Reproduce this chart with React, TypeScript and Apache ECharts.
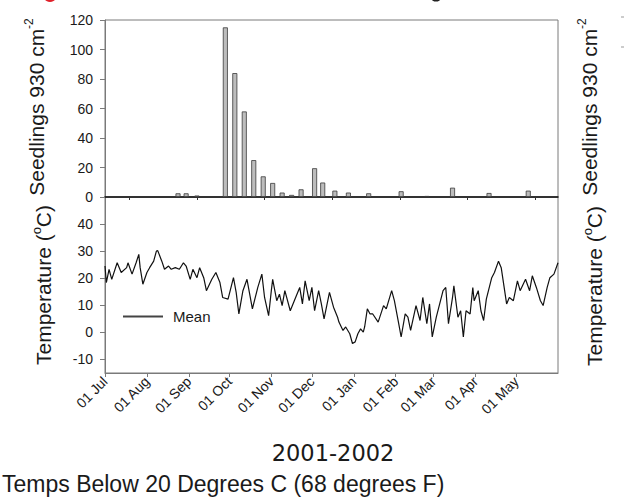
import React, { useEffect, useRef } from 'react';
import * as echarts from 'echarts';

// x values are days since 01 Jul 2001
const monthTickDays = [0, 31, 62, 92, 123, 153, 184, 215, 243, 274, 304];
const monthTickLabels = ['01 Jul', '01 Aug', '01 Sep', '01 Oct', '01 Nov', '01 Dec', '01 Jan', '01 Feb', '01 Mar', '01 Apr', '01 May'];
const seedlingAxisTickDays = [18, 68, 118, 168, 218, 268, 318];

const seedlingDays = [54, 60, 68, 89, 96, 103, 110, 117, 124, 131, 138, 145, 155, 161, 170, 180, 195, 219, 238, 257, 284, 313];
const seedlingCounts = [2.5, 2.5, 1, 115, 84, 58, 25, 14, 9.5, 3, 1.4, 5.2, 19.5, 9.8, 4.3, 3, 2.5, 3.9, 0.7, 6.3, 2.7, 4.3];

const tempDays = [
  0, 1, 3, 5, 9, 12, 16, 17, 20, 23, 25, 26, 28, 31, 33, 36, 38, 39, 42, 44, 47, 49, 52, 55, 58, 60, 63, 65, 68, 70,
  73, 75, 79, 82, 85, 87, 91, 95, 97, 99, 102, 105, 107, 109, 113, 116, 118, 121, 123, 124, 127, 129, 131, 133, 137,
  140, 144, 146, 148, 151, 153, 155, 158, 160, 162, 166, 169, 172, 173, 176, 178, 181, 183, 185, 187, 189, 191, 192,
  194, 196, 198, 202, 206, 208, 212, 214, 217, 219, 222, 224, 226, 230, 233, 235, 238, 240, 242, 245, 250, 252, 254,
  257, 258, 261, 263, 265, 267, 270, 272, 273, 276, 278, 280, 282, 286, 288, 291, 293, 297, 299, 302, 305, 307, 311,
  314, 316, 319, 322, 324, 327, 329, 332, 335,
];
const tempMean = [
  24.5, 18.4, 23.3, 19.6, 25.7, 22.1, 23.9, 25.7, 21.5, 25.7, 28.8, 23.9, 17.8, 22.1, 23.9, 26.3, 30, 30.2, 26.3, 23.3,
  24.5, 23.3, 23.9, 23.3, 25.7, 24.5, 19.6, 23.3, 20.2, 23.9,
  20.2, 15.4, 19.6, 22.1, 18.4, 12.9, 12.3, 20.2, 14.8, 6.8, 15.4, 19.6, 14.1, 8.7, 16.6, 21.5, 12.9, 6.2, 15.4, 19.6,
  11.7, 14.1, 9.9, 15.4, 8.0,
  11.7, 16.6, 10.5, 19.0, 11.7, 16.6, 8.0, 15.4, 10.5, 5.0, 14.8, 9.3, 5.6, 3.8, 0.7, 2, -0.5, -4.1, -3.5, -0.5, 1.3,
  0.1, 2,
  8.7, 6.8, 6.8, 3.8, 9.9, 8.7, 15.4, 11.7, 3.8, -1.7, 6.8, 5.6, 0.7, 9.9, 4.4, 12.9, 3.2, 10.5, -1.7, 5.6, 15.4, 16.6,
  3.2,
  12.9, 17.2, 5.6, 8, -1.7, 8, 6.8, 16.6, 11.7, 15.4, 8, 4.4, 12.3, 20.2, 22.1, 26.3, 23.9, 10.5, 12.9, 11.7, 19, 15.4,
  19.6,
  15.4, 20.9, 16.6, 11.7, 9.9, 16.6, 20.2, 21.5, 25.7,
];

const tempTickValues = [-10, 0, 10, 20, 30, 40];

const FONT = '"Liberation Sans", Arial, sans-serif';

export default function App() {
  const ref = useRef<HTMLDivElement>(null);

  useEffect(() => {
    if (!ref.current) return;
    const chart = echarts.init(ref.current, null, { renderer: 'svg' });

    const axisGray = '#7a7a7a';
    const labelColor = '#1a1a1a';

    const rotTitle = (x: number, y: number, main1: string, sup: string, main2: string, supSize: number) => ({
      type: 'text', x, y, rotation: Math.PI / 2,
      style: {
        text: `{a|${main1}}{s|${sup}}` + (main2 ? `{a|${main2}}` : ''),
        align: 'center', verticalAlign: 'middle',
        rich: {
          a: { fontSize: 21, fontFamily: FONT, fill: labelColor, lineHeight: 27 },
          s: { fontSize: supSize, fontFamily: FONT, fill: labelColor, verticalAlign: 'top' },
        },
      },
    });

    const option: any = {
      animation: false,
      textStyle: { fontFamily: FONT },
      grid: [
        { left: 105, top: 20, width: 453, height: 177, show: true, borderColor: axisGray, borderWidth: 1, backgroundColor: 'transparent', outerBoundsMode: 'none' },
        { left: 105, top: 197, width: 453, height: 176, show: true, borderColor: axisGray, borderWidth: 1, backgroundColor: 'transparent', outerBoundsMode: 'none' },
      ],
      legend: {
        show: true,
        data: ['Mean'],
        left: 123,
        top: 309,
        padding: 0,
        orient: 'horizontal',
        icon: 'rect',
        itemWidth: 40,
        itemHeight: 2,
        itemStyle: { color: '#444' },
        textStyle: { fontSize: 15, color: labelColor, fontFamily: FONT, padding: [0, 0, 0, 5] },
      },
      xAxis: [
        {
          gridIndex: 0,
          type: 'value',
          min: 0,
          max: 335,
          axisLine: { show: true, onZero: false, lineStyle: { color: '#111', width: 1.5 } },
          axisTick: { show: true, length: 3, inside: false, customValues: seedlingAxisTickDays, lineStyle: { color: '#333' } },
          axisLabel: { show: false },
          splitLine: { show: false },
        },
        {
          gridIndex: 1,
          type: 'value',
          min: 0,
          max: 335,
          axisLine: { show: true, onZero: false, lineStyle: { color: axisGray, width: 1 } },
          axisTick: { show: true, length: 4, customValues: monthTickDays, lineStyle: { color: axisGray } },
          axisLabel: {
            show: true,
            customValues: monthTickDays,
            formatter: (v: number) => {
              const i = monthTickDays.indexOf(Math.round(v));
              return i >= 0 ? monthTickLabels[i] : '';
            },
            rotate: 45,
            fontSize: 14,
            color: labelColor,
            margin: 6,
            fontFamily: FONT,
          },
          splitLine: { show: false },
        },
      ],
      yAxis: [
        {
          gridIndex: 0,
          type: 'value',
          min: 0,
          max: 120,
          interval: 20,
          axisLine: { show: true, lineStyle: { color: axisGray } },
          axisTick: { show: true, length: 5, lineStyle: { color: axisGray } },
          axisLabel: { fontSize: 14, color: labelColor, margin: 12, fontFamily: FONT },
          splitLine: { show: false },
        },
        {
          gridIndex: 1,
          type: 'value',
          min: -15,
          max: 50,
          axisLine: { show: true, lineStyle: { color: axisGray } },
          axisTick: { show: true, length: 5, customValues: tempTickValues, lineStyle: { color: axisGray } },
          axisLabel: { customValues: tempTickValues, fontSize: 14, color: labelColor, margin: 12, fontFamily: FONT },
          splitLine: { show: false },
        },
      ],
      series: [
        {
          type: 'bar',
          name: 'Seedlings',
          xAxisIndex: 0,
          yAxisIndex: 0,
          barWidth: 5,
          data: seedlingDays.map((d, i) => [d, seedlingCounts[i]]),
          itemStyle: { color: '#bdbdbd', borderColor: '#3a3a3a', borderWidth: 0.8 },
        },
        {
          type: 'line',
          name: 'Mean',
          xAxisIndex: 1,
          yAxisIndex: 1,
          symbol: 'none',
          data: tempDays.map((d, i) => [d, tempMean[i]]),
          lineStyle: { color: '#111', width: 1.2 },
          itemStyle: { color: '#111' },
        },
      ],
      graphic: [
        { type: 'circle', shape: { cx: 50, cy: -5, r: 7 }, style: { fill: '#e0202a' } },
        { type: 'circle', shape: { cx: 436, cy: -5, r: 6.5 }, style: { fill: '#222' } },
        { type: 'line', shape: { x1: 621, y1: 17, x2: 624, y2: 17 }, style: { stroke: '#999', lineWidth: 1 } },
        { type: 'line', shape: { x1: 621, y1: 47, x2: 624, y2: 47 }, style: { stroke: '#999', lineWidth: 1 } },
        rotTitle(36, 107, 'Seedlings 930 cm', '-2', '', 12),
        rotTitle(43, 285, 'Temperature (', 'o', 'C)', 13),
        rotTitle(589, 107, 'Seedlings 930 cm', '-2', '', 12),
        rotTitle(594, 286, 'Temperature (', 'o', 'C)', 13),
        {
          type: 'text', x: 333, y: 453,
          style: { text: '2001-2002', fontSize: 22.5, fontFamily: '"DejaVu Sans", Verdana, sans-serif', fill: labelColor, align: 'center', verticalAlign: 'middle' },
        },
        {
          type: 'text', x: 2, y: 484,
          style: { text: 'Temps Below 20 Degrees C (68 degrees F)', fontSize: 23, fontFamily: FONT, fill: labelColor, align: 'left', verticalAlign: 'middle' },
        },
      ],
    };

    chart.setOption(option);
    return () => chart.dispose();
  }, []);

  return <div ref={ref} style={{ position: 'fixed', left: 0, top: 0, width: 628, height: 499, background: '#fff' }} />;
}
